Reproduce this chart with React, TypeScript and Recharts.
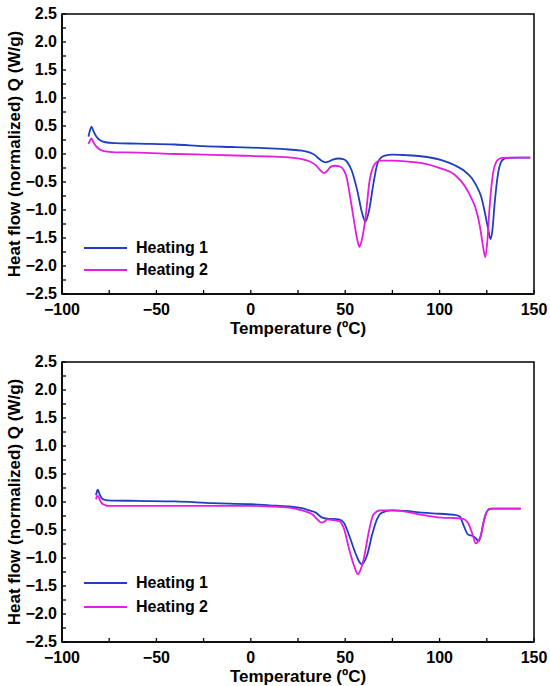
import React from 'react';
import {
  LineChart,
  Line,
  XAxis,
  YAxis,
  Legend,
  ReferenceArea,
} from 'recharts';

// first run (top panel)
const run1Heat1Temp = [-86, -85.2, -84.4, -83.5, -82, -80, -77, -72, -60, -40, -25, -10, 0, 10, 20, 27, 31, 34, 36, 38, 39.6, 41.5, 43.5, 46.5, 49, 51, 53.5, 56.3, 59, 60.7, 62.5, 65, 66.8, 68.5, 71, 75, 82, 90, 101, 108, 113, 117, 120, 122, 124, 125.5, 127, 128, 129, 131, 132.6, 134, 136, 142, 148];
const run1Heat1Flow = [0.31, 0.42, 0.49, 0.42, 0.32, 0.25, 0.21, 0.195, 0.185, 0.17, 0.14, 0.125, 0.115, 0.1, 0.08, 0.06, 0.03, -0.02, -0.08, -0.13, -0.15, -0.13, -0.1, -0.08, -0.09, -0.14, -0.3, -0.64, -1.06, -1.21, -1.03, -0.52, -0.2, -0.08, -0.03, -0.01, -0.02, -0.04, -0.11, -0.2, -0.3, -0.43, -0.6, -0.76, -1.05, -1.3, -1.52, -1.35, -0.94, -0.34, -0.14, -0.09, -0.07, -0.065, -0.065];

const run1Heat2Temp = [-86, -85.2, -84.4, -83.5, -82, -80, -77, -72, -60, -40, -20, 0, 10, 20, 27, 31, 34.4, 36.5, 38.8, 40.5, 42.3, 44.5, 47, 49.3, 51, 52, 54.6, 56.5, 57.5, 58.7, 60.6, 63, 64.8, 66.5, 68.5, 75, 82, 90, 101, 108, 113.5, 117, 118.8, 121.4, 123, 124.2, 125.3, 126.5, 128.3, 130, 131.5, 133.5, 140, 148];
const run1Heat2Flow = [0.18, 0.24, 0.28, 0.22, 0.14, 0.08, 0.045, 0.03, 0.025, 0.0, -0.015, -0.035, -0.045, -0.06, -0.09, -0.13, -0.2, -0.28, -0.34, -0.3, -0.23, -0.21, -0.22, -0.29, -0.45, -0.64, -1.18, -1.55, -1.66, -1.55, -1.18, -0.46, -0.23, -0.15, -0.12, -0.12, -0.13, -0.16, -0.26, -0.37, -0.58, -0.8, -0.94, -1.3, -1.65, -1.84, -1.55, -0.94, -0.34, -0.14, -0.09, -0.07, -0.065, -0.065];

// second run (bottom panel)
const run2Heat1Temp = [-82, -81.5, -81, -80.2, -79, -77.5, -76, -60, -40, -20, 0, 10, 20, 27, 31, 34.4, 37.9, 41.4, 44, 46.7, 49.3, 52, 55.5, 57.5, 58.6, 60, 61.6, 64.2, 66.8, 69.5, 74.7, 82, 90.5, 100, 108, 110.7, 112.5, 115, 117.7, 119, 120.7, 122, 123, 125.3, 127.4, 135, 143];
const run2Heat1Flow = [0.12, 0.19, 0.22, 0.15, 0.07, 0.04, 0.03, 0.02, 0.01, -0.02, -0.04, -0.06, -0.08, -0.11, -0.15, -0.19, -0.28, -0.3, -0.3, -0.31, -0.37, -0.59, -0.92, -1.07, -1.11, -1.07, -0.95, -0.59, -0.31, -0.19, -0.15, -0.16, -0.19, -0.21, -0.23, -0.26, -0.4, -0.58, -0.61, -0.64, -0.7, -0.58, -0.4, -0.16, -0.12, -0.12, -0.12];

const run2Heat2Temp = [-82, -81.5, -81, -80, -79, -77.5, -76, -60, -40, -20, 0, 10, 20, 27, 32.6, 36.1, 37.5, 39, 40.5, 44, 46.7, 49.3, 52, 54.5, 56.8, 58, 59.8, 62.5, 65, 68.5, 75, 82, 90.5, 100.9, 109.6, 112.5, 115, 117.7, 119.1, 120.5, 121.8, 123.9, 126.5, 135, 143];
const run2Heat2Flow = [0.05, 0.1, 0.11, 0.04, -0.02, -0.05, -0.07, -0.07, -0.07, -0.07, -0.07, -0.08, -0.1, -0.15, -0.22, -0.34, -0.37, -0.35, -0.31, -0.33, -0.34, -0.47, -0.83, -1.12, -1.29, -1.22, -1.02, -0.53, -0.22, -0.15, -0.15, -0.17, -0.23, -0.28, -0.29, -0.3, -0.37, -0.6, -0.74, -0.7, -0.6, -0.28, -0.12, -0.12, -0.12];

const xTicks = [-100, -75, -50, -25, 0, 25, 50, 75, 100, 125, 150];
const yTicks = [-2.5, -2.25, -2, -1.75, -1.5, -1.25, -1, -0.75, -0.5, -0.25, 0, 0.25, 0.5, 0.75, 1, 1.25, 1.5, 1.75, 2, 2.25, 2.5];

const BLUE = '#1f3fc2';
const MAGENTA = '#e41ee0';
const FONT = '"Liberation Sans", Arial, sans-serif';

const zip = (xs: number[], ys: number[]) => xs.map((t, i) => ({ t, q: ys[i] }));

const fmt = (v: number) => (v < 0 ? '\u2212' + Math.abs(v) : String(v));

const XTick = (props: any) => {
  const { x, y, payload } = props;
  const v = payload.value;
  return (
    <g>
      <line x1={x} x2={x} y1={y} y2={y - 4} stroke="#000" strokeWidth={1.3} />
      {v % 50 === 0 && (
        <text x={x} y={y + 15} dy="0.35em" textAnchor="middle" fontFamily={FONT} fontWeight="bold" fontSize={16} fill="#000">
          {fmt(v)}
        </text>
      )}
    </g>
  );
};

const YTick = (props: any) => {
  const { x, y, payload } = props;
  const v = payload.value;
  const major = Math.abs(Math.round(v * 2) - v * 2) < 1e-6;
  return (
    <g>
      <line x1={x} x2={x + 4} y1={y} y2={y} stroke="#000" strokeWidth={1.3} />
      {major && (
        <text x={x - 5} y={y - 1} dy="0.35em" textAnchor="end" fontFamily={FONT} fontWeight="bold" fontSize={16} fill="#000">
          {fmt(Number(v.toFixed(1))).replace(/^(−?\d)$/, '$1.0')}
        </text>
      )}
    </g>
  );
};

const LegendBox = (props: any) => {
  const { payload, gap } = props;
  return (
    <div style={{ fontFamily: FONT, fontWeight: 'bold', fontSize: 16 }}>
      {payload.map((p: any) => (
        <div key={p.value} style={{ display: 'flex', alignItems: 'center', height: gap }}>
          <span style={{ display: 'inline-block', width: 43, height: 2, background: p.color, marginRight: 9 }} />
          <span>{p.value}</span>
        </div>
      ))}
    </div>
  );
};

function Panel({ h1, h2, height, top, legendTop, gap }: any) {
  return (
    <LineChart width={550} height={height} margin={{ top, right: 16, bottom: height - top - 280 - 40, left: 0 }}>
      <XAxis
        type="number"
        dataKey="t"
        domain={[-100, 150]}
        ticks={xTicks}
        interval={0}
        height={40}
        tickSize={0}
        tickMargin={0}
        tickLine={false}
        tick={<XTick />}
        axisLine={{ stroke: '#000', strokeWidth: 1.5 }}
        allowDataOverflow
        label={{ value: 'Temperature (ºC)', position: 'insideBottom', offset: 0, style: { fontFamily: FONT, fontWeight: 'bold', fontSize: 17, fill: '#000' } }}
      />
      <YAxis
        type="number"
        domain={[-2.5, 2.5]}
        ticks={yTicks}
        interval={0}
        width={62}
        tickSize={0}
        tickMargin={0}
        tickLine={false}
        tick={<YTick />}
        axisLine={{ stroke: '#000', strokeWidth: 1.5 }}
        allowDataOverflow
        label={{ value: 'Heat flow (normalized) Q (W/g)', angle: -90, position: 'insideLeft', offset: 14, style: { textAnchor: 'middle', fontFamily: FONT, fontWeight: 'bold', fontSize: 17, fill: '#000' } }}
      />
      <ReferenceArea x1={-100} x2={150} y1={-2.5} y2={2.5} fill="none" stroke="#000" strokeWidth={1.5} />
      <Legend
        layout="horizontal"
        verticalAlign="middle"
        align="center"
        wrapperStyle={{ left: 84, top: legendTop, width: 200 }}
        content={<LegendBox gap={gap} />}
      />
      <Line data={h1} dataKey="q" name="Heating 1" type="monotone" stroke={BLUE} strokeWidth={1.8} dot={false} isAnimationActive={false} />
      <Line data={h2} dataKey="q" name="Heating 2" type="monotone" stroke={MAGENTA} strokeWidth={1.8} dot={false} isAnimationActive={false} />
    </LineChart>
  );
}

export default function App() {
  return (
    <div style={{ position: 'absolute', left: 0, top: 0, width: 550, height: 686, background: '#fff' }}>
      <Panel
        h1={zip(run1Heat1Temp, run1Heat1Flow)}
        h2={zip(run1Heat2Temp, run1Heat2Flow)}
        height={340}
        top={14}
        legendTop={237}
        gap={22}
      />
      <Panel
        h1={zip(run2Heat1Temp, run2Heat1Flow)}
        h2={zip(run2Heat2Temp, run2Heat2Flow)}
        height={346}
        top={22}
        legendTop={231}
        gap={24}
      />
    </div>
  );
}
